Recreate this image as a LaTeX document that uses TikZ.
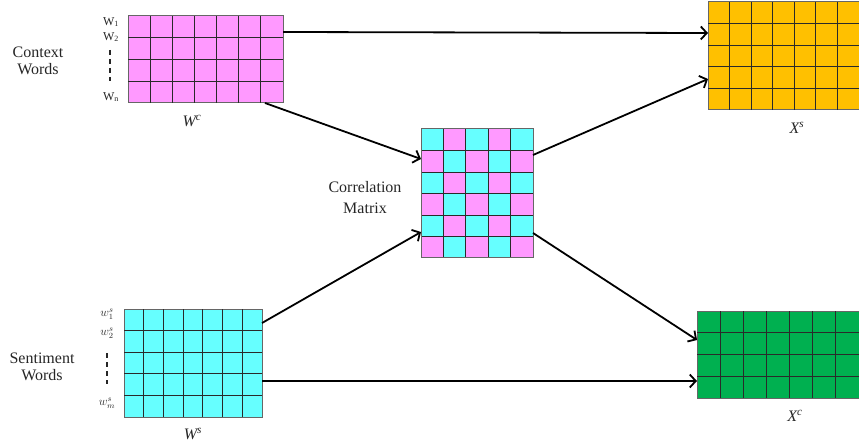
\documentclass[tikz,border=0pt]{standalone}
\usepackage{fontspec}
\setmainfont{Liberation Serif}
\usetikzlibrary{calc,arrows.meta}
\definecolor{mpink}{HTML}{FF99FF}
\definecolor{mcyan}{HTML}{66FFFF}
\definecolor{myellow}{HTML}{FFC000}
\definecolor{mgreen}{HTML}{00B050}
\definecolor{gridc}{HTML}{2A2A2A}
\definecolor{txt}{HTML}{262626}
\tikzset{
  matbox/.style={draw=gray!80!black, line width=1pt, anchor=north west, inner sep=0pt, outer sep=0pt},
  gridline/.style={draw=gridc, line width=0.9pt},
  arr/.style={line width=1.8pt, -{Straight Barb[length=6pt,width=13pt,line width=1.8pt]}},
  biglabel/.style={font=\fontsize{16}{17}\selectfont, align=center, text=txt},
  rowlabel/.style={font=\fontsize{12}{13}\selectfont, text=txt, inner sep=0pt},
  matlabel/.style={font=\fontsize{16}{17}\selectfont\itshape, text=txt},
}
\newcommand{\mygrid}[3]{%
  \foreach \i in {1,...,#2}{\draw[gridline] ($(#1.north west)!{\i/(#2+1)}!(#1.north east)$) -- ($(#1.south west)!{\i/(#2+1)}!(#1.south east)$);}
  \foreach \j in {1,...,#3}{\draw[gridline] ($(#1.north west)!{\j/(#3+1)}!(#1.south west)$) -- ($(#1.north east)!{\j/(#3+1)}!(#1.south east)$);}
}
\begin{document}
\begin{tikzpicture}[x=1pt,y=-1pt]
\useasboundingbox (0,0) rectangle (859,446);
% matrices
\node[matbox, fill=mpink, minimum width=155pt, minimum height=87pt] (wc) at (128,16) {};
\mygrid{wc}{6}{3}
\node[matbox, fill=mcyan, minimum width=138pt, minimum height=108pt] (ws) at (124,309) {};
\mygrid{ws}{6}{4}
\node[matbox, fill=myellow, minimum width=151pt, minimum height=108pt] (xs) at (708,2) {};
\mygrid{xs}{6}{4}
\node[matbox, fill=mgreen, minimum width=162pt, minimum height=87pt] (xc) at (697,311) {};
\mygrid{xc}{6}{3}
\node[matbox, fill=mpink, minimum width=112pt, minimum height=129pt] (corr) at (421,129) {};
\foreach \r in {0,...,5}{\foreach \c in {0,...,4}{
  \pgfmathtruncatemacro{\parity}{mod(\r+\c,2)}
  \ifnum\parity=0
    \fill[mcyan] ($(corr.north west)+({\c*22.4},{\r*21.5})$) rectangle +(22.4,21.5);
  \fi
}}
\mygrid{corr}{4}{5}
\draw[draw=gray!80!black, line width=1pt] (corr.north west) rectangle (corr.south east);
% labels
\node[biglabel] (cw) at (38,61) {Context\\Words};
\node[rowlabel] (w1) at (111,22) {W\textsubscript{1}};
\node[rowlabel] (w2) at (111,37) {W\textsubscript{2}};
\node[rowlabel] (wn) at (111,97) {W\textsubscript{n}};
\draw[txt, line width=1.4pt, dash pattern=on 5pt off 4pt] (110,50) -- (110,81);
\node[matlabel] (lwc) at (192,121) {W\textsuperscript{c}};
\node[biglabel] (sw) at (42,367) {Sentiment\\Words};
\node[rowlabel] (s1) at (107,314) {$w_1^s$};
\node[rowlabel] (s2) at (107,333) {$w_2^s$};
\node[rowlabel] (sm) at (107,403) {$w_m^s$};
\draw[txt, line width=1.4pt, dash pattern=on 5pt off 4pt] (107,353) -- (107,384);
\node[matlabel] (lws) at (193,434) {W\textsuperscript{s}};
\node[biglabel, font=\fontsize{16}{21}\selectfont] (cm) at (365,198) {Correlation\\Matrix};
\node[matlabel] (lxs) at (797,128) {X\textsuperscript{s}};
\node[matlabel] (lxc) at (795,416) {X\textsuperscript{c}};
% arrows
\draw[arr] ([yshift=-16pt]wc.north east) -- ([yshift=-31pt]xs.north west);
\draw[arr] ([xshift=-18pt]wc.south east) -- ([yshift=-30pt]corr.north west);
\draw[arr] ([yshift=-14pt]ws.north east) -- ([yshift=-103pt]corr.north west);
\draw[arr] ([yshift=-72pt]ws.north east) -- ([yshift=-70pt]xc.north west);
\draw[arr] ([yshift=-26pt]corr.north east) -- ([yshift=-77pt]xs.north west);
\draw[arr] ([yshift=-104pt]corr.north east) -- ([yshift=-29pt]xc.north west);
\end{tikzpicture}
\end{document}
